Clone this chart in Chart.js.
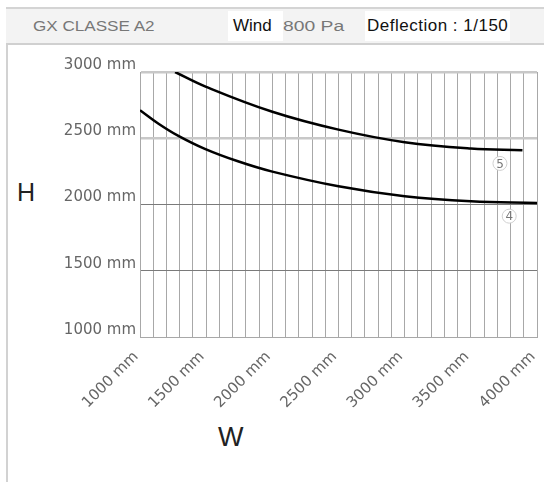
<!DOCTYPE html>
<html>
<head>
<meta charset="utf-8">
<script src="https://cdn.jsdelivr.net/npm/chart.js@4.4.1/dist/chart.umd.min.js"></script>
<style>
  body { margin: 0; width: 544px; height: 482px; overflow: hidden; background: #fff; position: relative; font-family: "Liberation Sans", Arial, sans-serif; }
  #frame-left { position: absolute; left: 6px; top: 7px; width: 2px; height: 475px; background: #d2d2d2; }
  #header { position: absolute; left: 6px; top: 7px; width: 538px; height: 38px; background: #f3f3f3; border-top: 2px solid #d4d4d4; border-bottom: 2px solid #d0d0d0; box-sizing: border-box; }
  .box { position: absolute; top: 2px; height: 30px; background: #fff; }
  .txt { position: absolute; top: 0; line-height: 34px; white-space: nowrap; transform-origin: left center; }
  #axis-h { position: absolute; left: 17px; top: 178px; font-size: 25px; color: #222; }
  #axis-w { position: absolute; left: 218px; top: 422px; font-size: 27px; color: #222; }
  #wrap { position: absolute; left: 9px; top: 44px; width: 535px; height: 438px; }
</style>
</head>
<body>
<div id="frame-left"></div>
<div id="header">
  <div class="box" style="left:222px;width:55px"></div>
  <div class="box" style="left:359px;width:145px"></div>
  <span class="txt" style="left:27px;font-size:14px;color:#777;transform:scaleX(1.22)">GX CLASSE A2</span>
  <span class="txt" style="left:227px;font-size:17px;color:#111">Wind</span>
  <span class="txt" style="left:277px;font-size:14px;color:#777;transform:scaleX(1.38)">800 Pa</span>
  <span class="txt" style="left:361px;font-size:17px;color:#111;letter-spacing:0.5px">Deflection : 1/150</span>
</div>
<div id="axis-h">H</div>
<div id="axis-w">W</div>
<div id="wrap"><canvas id="chart-gx"></canvas></div>
<script>
// curve 5 (upper) and curve 4 (lower), width W in mm -> height H in mm
const curve5W = [1265, 1500, 2000, 2500, 3000, 3500, 3890];
const curve5H = [3000, 2888, 2700, 2565, 2470, 2422, 2410];
const curve4W = [1000, 1140, 1290, 1490, 1740, 2000, 2500, 3000, 3500, 4000];
const curve4H = [2712, 2610, 2518, 2420, 2326, 2248, 2137, 2062, 2024, 2012];

const xLabelValues = [1000, 1500, 2000, 2500, 3000, 3500, 4000];
const yLabelValues = [1000, 1500, 2000, 2500, 3000];

const markerText = ["5", "4"];
const markerW = [3720, 3790];
const markerH = [2310, 1912];

const tickFont = { family: "'DejaVu Sans', sans-serif", size: 15 };

function toPoints(ws, hs) {
  return ws.map((w, i) => ({ x: w, y: hs[i] }));
}

const curveMarkers = {
  id: "curveMarkers",
  afterDatasetsDraw(chart) {
    const { ctx, scales } = chart;
    markerText.forEach((t, i) => {
      const px = scales.x.getPixelForValue(markerW[i]);
      const py = scales.y.getPixelForValue(markerH[i]);
      ctx.save();
      ctx.beginPath();
      ctx.arc(px, py, 7, 0, Math.PI * 2);
      ctx.fillStyle = "#fff";
      ctx.fill();
      ctx.strokeStyle = "#d0d0d0";
      ctx.lineWidth = 1;
      ctx.stroke();
      ctx.fillStyle = "#777";
      ctx.font = "12px 'DejaVu Sans'";
      ctx.textAlign = "center";
      ctx.textBaseline = "middle";
      ctx.fillText(t, px, py + 1);
      ctx.restore();
    });
  },
};

const config = {
  type: "line",
  data: {
    datasets: [
      {
        label: "5",
        data: toPoints(curve5W, curve5H),
        borderColor: "#000",
        borderWidth: 2.5,
        pointRadius: 0,
        tension: 0.4,
      },
      {
        label: "4",
        data: toPoints(curve4W, curve4H),
        borderColor: "#000",
        borderWidth: 2.5,
        pointRadius: 0,
        tension: 0.4,
      },
    ],
  },
  options: {
    responsive: true,
    maintainAspectRatio: false,
    animation: false,
    layout: { padding: { top: 28, right: 7, left: 0, bottom: 0 } },
    plugins: { legend: { display: false }, tooltip: { enabled: false } },
    scales: {
      x: {
        type: "linear",
        min: 1000,
        max: 4000,
        afterFit(scale) {
          scale.height = 145;
          scale.paddingRight = 0;
        },
        ticks: {
          stepSize: 100,
          autoSkip: false,
          minRotation: 45,
          maxRotation: 45,
          padding: 11,
          labelOffset: -4,
          color: "#666",
          font: tickFont,
          callback: (v) => (xLabelValues.includes(v) ? v + " mm" : ""),
        },
        grid: { color: "#a8a8a8", lineWidth: 1, drawTicks: false },
        border: { color: "#a8a8a8" },
      },
      y: {
        min: 1000,
        max: 3000,
        afterFit(scale) { scale.width = 131; },
        ticks: {
          stepSize: 500,
          padding: 4,
          labelOffset: -7,
          color: "#666",
          font: tickFont,
          callback: (v) => (yLabelValues.includes(v) ? v + " mm" : ""),
        },
        grid: {
          drawTicks: false,
          color: (c) => (c.tick && c.tick.value >= 2500 ? "#c8c8c8" : "#7a7a7a"),
          lineWidth: (c) => (c.tick && c.tick.value >= 2500 ? 2.5 : 1),
        },
        border: { color: "#a8a8a8" },
      },
    },
  },
  plugins: [curveMarkers],
};

const ctx = document.getElementById("chart-gx");
let chart = new Chart(ctx, config);
</script>
</body>
</html>
